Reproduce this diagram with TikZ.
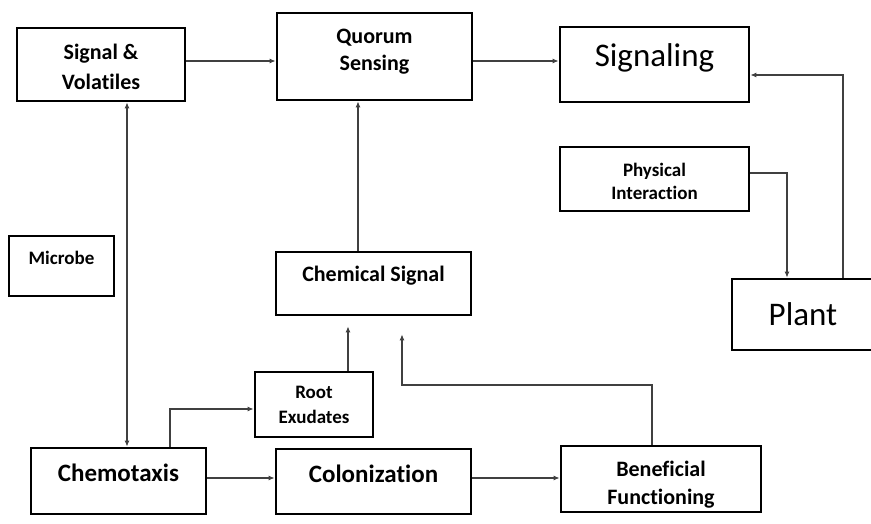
\documentclass[tikz,border=0pt]{standalone}
\usepackage{fontspec}
\setmainfont{Carlito}[Ligatures=NoCommon]
\usetikzlibrary{arrows.meta}

\begin{document}
\begin{tikzpicture}[x=1pt, y=-1pt,
    box/.style={draw=black, line width=2.8pt, inner sep=2pt, align=center},
    bigtxt/.style={font=\bfseries\fontsize{25}{30}\selectfont},
    midtxt/.style={font=\bfseries\fontsize{22}{27}\selectfont},
    smalltxt/.style={font=\bfseries\fontsize{19}{23.5}\selectfont},
    hugetxt/.style={font=\fontsize{33}{40}\selectfont},
    link/.style={draw=black!75, line width=1.1pt, >={Latex[length=6pt,width=5pt]}, ->},
]
\useasboundingbox (0,0) rectangle (871,524);

% --- Boxes ---
\node[box, midtxt, font=\bfseries\fontsize{22}{30}\selectfont, text height=50pt, minimum width=168pt, minimum height=73pt] (volatiles) at (101,64.5) {Signal \&\\Volatiles};
\node[box, midtxt, minimum width=195pt, minimum height=87pt, text depth=14pt] (quorum) at (374.5,56.5) {Quorum\\Sensing};
\node[box, hugetxt, minimum width=189pt, minimum height=75pt, text depth=18pt] (signaling) at (654.5,64.5) {Signaling};
\node[box, smalltxt, text height=42pt, minimum width=189pt, minimum height=64pt] (physical) at (654.5,179) {Physical\\Interaction};
\node[box, smalltxt, minimum width=105pt, minimum height=60pt, text depth=16pt] (microbe) at (61.5,266) {Microbe};
\node[box, midtxt, minimum width=195pt, minimum height=63pt, text depth=20pt] (chemical) at (373.5,283.5) {Chemical Signal};
\node[box, hugetxt, minimum width=142pt, minimum height=71pt] (plant) at (803,314.5) {Plant};
\node[box, smalltxt, font=\bfseries\fontsize{19}{25}\selectfont, minimum width=118pt, minimum height=65pt] (root) at (314,404.5) {Root\\Exudates};
\node[box, bigtxt, minimum width=175pt, minimum height=66pt, text depth=16pt] (chemotaxis) at (118.5,481) {Chemotaxis};
\node[box, bigtxt, minimum width=195pt, minimum height=65pt, text depth=16pt] (colonization) at (373.5,481.5) {Colonization};
\node[box, midtxt, font=\bfseries\fontsize{22}{28}\selectfont, text height=54pt, minimum width=200pt, minimum height=66pt] (beneficial) at (661,479) {Beneficial\\Functioning};

% --- Routing points ---
\coordinate (toprow) at (0,61);
\coordinate (midrow) at (0,478);
\coordinate (vline) at (127,0);
\coordinate (fork) at (170,409);
\coordinate (bend) at (402,385);
\coordinate (drop) at (787,173);
\coordinate (rise) at (843,75);

% --- Connectors ---
\draw[link] (volatiles.east |- toprow) -- (quorum.west |- toprow);
\draw[link] (quorum.east |- toprow) -- (signaling.west |- toprow);
\draw[link, <->] (vline |- volatiles.south) -- (vline |- chemotaxis.north);
\draw[link] ([xshift=-15.5pt]chemical.north) -- ([xshift=-15.5pt]chemical.north |- quorum.south);
\draw[link, shorten >=10pt] ([xshift=34pt]root.north) -- ([xshift=34pt]root.north |- chemical.south);
\draw[link, shorten >=18pt] ([xshift=-9pt]beneficial.north) |- (bend) -- (bend |- chemical.south);
\draw[link] (fork |- chemotaxis.north) |- (root.west |- fork);
\draw[link] (chemotaxis.east |- midrow) -- (colonization.west |- midrow);
\draw[link] (colonization.east |- midrow) -- (beneficial.west |- midrow);
\draw[link] (physical.east |- drop) -| (drop |- plant.north);
\draw[link] (rise |- plant.north) |- (signaling.east |- rise);

\end{tikzpicture}
\end{document}
